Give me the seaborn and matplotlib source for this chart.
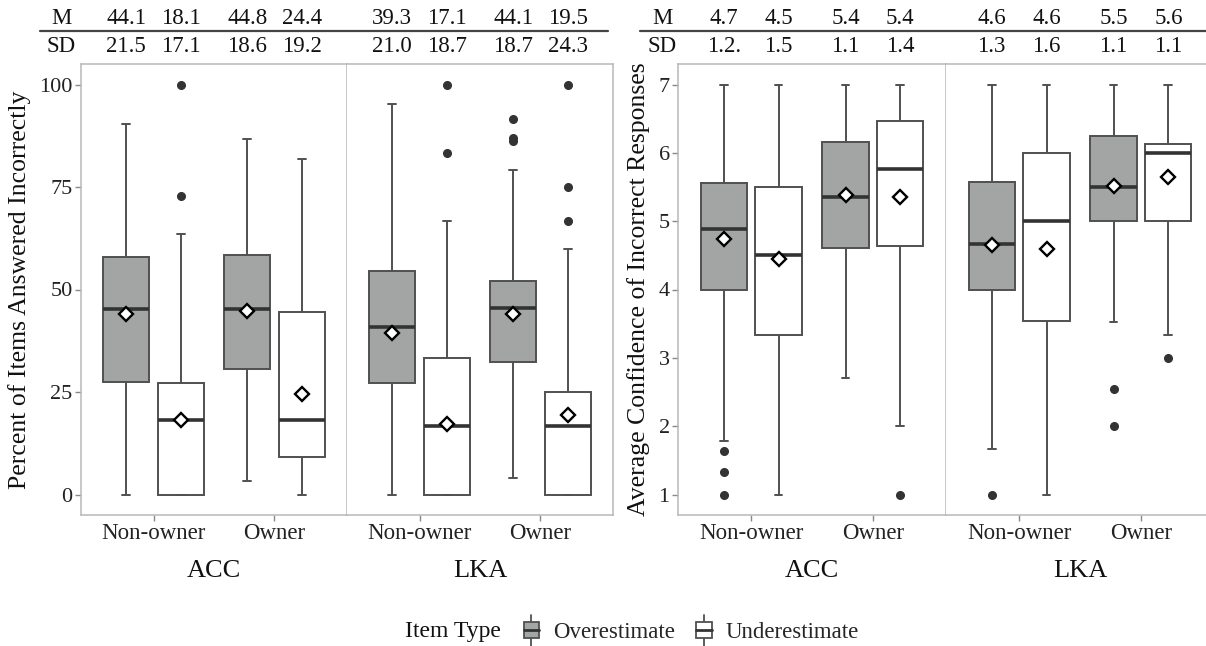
import numpy as np
import pandas as pd
import matplotlib
matplotlib.use("Agg")
import matplotlib.pyplot as plt
import matplotlib.transforms as mtrans
from matplotlib.legend_handler import HandlerBase
from matplotlib.patches import Rectangle, Patch
from matplotlib.lines import Line2D
import seaborn as sns

# ---------------- data ----------------
facets = ["ACC", "LKA"]
owners = ["Non-owner", "Owner"]
item_types = ["Overestimate", "Underestimate"]
# order of the four boxes in a facet:
# (Non-owner, Over), (Non-owner, Under), (Owner, Over), (Owner, Under)

# Percent of items answered incorrectly
pct_whislo = {"ACC": [0, 0, 3.4, 0], "LKA": [0, 0, 4.1, 0]}
pct_q1 = {"ACC": [27.4, 0, 30.5, 9.1], "LKA": [27.2, 0, 32.2, 0]}
pct_med = {"ACC": [45.2, 18.2, 45.2, 18.2], "LKA": [40.9, 16.7, 45.6, 16.7]}
pct_q3 = {"ACC": [58.0, 27.3, 58.5, 44.4], "LKA": [54.6, 33.2, 52.1, 25.0]}
pct_whishi = {"ACC": [90.3, 63.6, 86.6, 81.8], "LKA": [95.2, 66.7, 79.2, 60.0]}
pct_fliers = {"ACC": [[], [72.7, 100], [], []],
              "LKA": [[], [83.3, 100], [86.2, 87.0, 91.6], [66.7, 75.0, 100]]}
pct_mean = {"ACC": [44.1, 18.1, 44.8, 24.4], "LKA": [39.3, 17.1, 44.1, 19.5]}
pct_M_labels = {"ACC": ["44.1", "18.1", "44.8", "24.4"], "LKA": ["39.3", "17.1", "44.1", "19.5"]}
pct_SD_labels = {"ACC": ["21.5", "17.1", "18.6", "19.2"], "LKA": ["21.0", "18.7", "18.7", "24.3"]}

# Average confidence of incorrect responses
conf_whislo = {"ACC": [1.78, 1.0, 2.70, 2.0], "LKA": [1.67, 1.0, 3.52, 3.33]}
conf_q1 = {"ACC": [4.0, 3.33, 4.61, 4.63], "LKA": [4.0, 3.54, 5.0, 5.0]}
conf_med = {"ACC": [4.89, 4.50, 5.36, 5.76], "LKA": [4.67, 5.0, 5.50, 6.0]}
conf_q3 = {"ACC": [5.56, 5.50, 6.16, 6.46], "LKA": [5.58, 6.0, 6.24, 6.13]}
conf_whishi = {"ACC": [7, 7, 7, 7], "LKA": [7, 7, 7, 7]}
conf_fliers = {"ACC": [[1.0, 1.33, 1.63], [], [], [1.0]],
               "LKA": [[1.0], [], [2.0, 2.54], [3.0]]}
conf_mean = {"ACC": [4.74, 4.45, 5.38, 5.36], "LKA": [4.65, 4.59, 5.52, 5.64]}
conf_M_labels = {"ACC": ["4.7", "4.5", "5.4", "5.4"], "LKA": ["4.6", "4.6", "5.5", "5.6"]}
conf_SD_labels = {"ACC": ["1.2.", "1.5", "1.1", "1.4"], "LKA": ["1.3", "1.6", "1.1", "1.1"]}

# ---------------- style ----------------
sns.set_theme(style="white")
plt.rcParams["font.family"] = ["Liberation Serif", "DejaVu Serif"]

GRAY_FILL = "#A2A6A5"
LINE = "#505050"
BORDER = "#B8B8B8"
palette = {"Overestimate": GRAY_FILL, "Underestimate": "white"}

box_keys = [(o, t) for o in owners for t in item_types]


def build_frames(whislo, q1, med, q3, whishi, fliers, means, facet, m=50):
    rows, mrows = [], []
    for i, (o, t) in enumerate(box_keys):
        vals = ([whislo[facet][i]] + [q1[facet][i]] * m + [med[facet][i]] * m
                + [q3[facet][i]] * m + [whishi[facet][i]] + list(fliers[facet][i]))
        rows += [{"owner": o, "item": t, "value": v} for v in vals]
        mrows.append({"owner": o, "item": t, "mean": means[facet][i]})
    return pd.DataFrame(rows), pd.DataFrame(mrows)


def draw_facet(ax, df, mdf, ylim, yticks, ylabel, facet):
    sns.boxplot(data=df, x="owner", y="value", hue="item", order=owners,
                hue_order=item_types, palette=palette, width=0.9, gap=0.16,
                linecolor=LINE, linewidth=1.4, fliersize=5.5, whis=1.5,
                flierprops=dict(marker="o", markerfacecolor="#333333",
                                markeredgecolor="#333333"),
                medianprops=dict(color="#333333", linewidth=2.6),
                capwidths=0.065, legend=False, ax=ax)
    n_before = len(ax.lines)
    sns.pointplot(data=mdf, x="owner", y="mean", hue="item", order=owners,
                  hue_order=item_types, dodge=0.45, markers="D", linestyle="none",
                  palette=["white", "white"], errorbar=None, markersize=7.5,
                  legend=False, ax=ax)
    for ln in ax.lines[n_before:]:
        ln.set_markeredgecolor("black")
        ln.set_markerfacecolor("white")
        ln.set_markeredgewidth(1.7)
        ln.set_zorder(5)
    ax.set_xlim(-0.6, 1.6)
    ax.set_ylim(*ylim)
    ax.set_yticks(yticks)
    for s in ax.spines.values():
        s.set_visible(True)
        s.set_color(BORDER)
        s.set_linewidth(1.1)
    ax.tick_params(axis="x", length=4, width=1, color="#888888", labelsize=16.5,
                   labelcolor="#222222", pad=2, bottom=True)
    if ylabel is not None:
        ax.tick_params(axis="y", length=4, width=1, color="#888888", labelsize=16,
                       labelcolor="#222222", pad=2, left=True)
        ax.set_ylabel(ylabel, fontsize=18.5, color="#111111", labelpad=6)
    else:
        ax.tick_params(axis="y", left=False, labelleft=False)
        ax.set_ylabel("")
    ax.set_xlabel(facet, fontsize=19, color="#111111", labelpad=11)


W, H = 1206, 646
fig = plt.figure(figsize=(W / 100, H / 100), dpi=100)


def fx(px):
    return px / W


def fy(py):
    return 1 - py / H


panel_top, panel_bot = 64, 515
axh = (panel_bot - panel_top) / H
axes_pos = {
    ("pct", "ACC"): (81, 266), ("pct", "LKA"): (347, 266),
    ("conf", "ACC"): (678, 268), ("conf", "LKA"): (946, 268),
}

panels = {
    "pct": dict(stats=(pct_whislo, pct_q1, pct_med, pct_q3, pct_whishi, pct_fliers, pct_mean),
                ylim=(-5, 105), yticks=[0, 25, 50, 75, 100],
                ylabel="Percent of Items Answered Incorrectly",
                M=pct_M_labels, SD=pct_SD_labels, line=(40, 608), mx=61),
    "conf": dict(stats=(conf_whislo, conf_q1, conf_med, conf_q3, conf_whishi, conf_fliers, conf_mean),
                 ylim=(0.7, 7.3), yticks=[1, 2, 3, 4, 5, 6, 7],
                 ylabel="Average Confidence of Incorrect Responses",
                 M=conf_M_labels, SD=conf_SD_labels, line=(640, 1206), mx=662),
}

offsets = [-0.225, 0.225]
for pname, p in panels.items():
    for fi, facet in enumerate(facets):
        left, width = axes_pos[(pname, facet)]
        ax = fig.add_axes([fx(left), fy(panel_bot), width / W, axh])
        df, mdf = build_frames(*p["stats"], facet)
        draw_facet(ax, df, mdf, p["ylim"], p["yticks"],
                   p["ylabel"] if fi == 0 else None, facet)
        if fi == 1:
            ax.spines["left"].set_visible(False)
        # summary table above the facet
        trans = mtrans.blended_transform_factory(ax.transData, fig.transFigure)
        for i, (o, t) in enumerate(box_keys):
            xpos = owners.index(o) + offsets[item_types.index(t)]
            ax.text(xpos, fy(18), p["M"][facet][i], transform=trans, ha="center",
                    va="center", fontsize=16.5, color="#111111", clip_on=False)
            ax.text(xpos, fy(47), p["SD"][facet][i], transform=trans, ha="center",
                    va="center", fontsize=16.5, color="#111111", clip_on=False)
    fig.text(fx(p["mx"]), fy(18), "M", ha="center", va="center", fontsize=16.5, color="#111111")
    fig.text(fx(p["mx"]), fy(47), "SD", ha="center", va="center", fontsize=16.5, color="#111111")
    x0, x1 = p["line"]
    fig.add_artist(Line2D([fx(x0), fx(x1)], [fy(31), fy(31)], color="#444444",
                          linewidth=1.6, transform=fig.transFigure))


# ---------------- legend ----------------
class HandlerBox(HandlerBase):
    def create_artists(self, legend, orig_handle, xdescent, ydescent, width,
                       height, fontsize, trans):
        fc = orig_handle.get_facecolor()
        cx = -xdescent + width / 2
        cy = -ydescent + height / 2
        bw, bh = width * 0.75, height * 0.85
        vline = Line2D([cx, cx], [cy - height * 0.8, cy + height * 0.8], color=LINE,
                       lw=1.3, transform=trans)
        rect = Rectangle((cx - bw / 2, cy - bh / 2), bw, bh, facecolor=fc,
                         edgecolor=LINE, lw=1.3, transform=trans)
        hline = Line2D([cx - bw / 2, cx + bw / 2], [cy, cy], color="#333333",
                       lw=2.0, transform=trans)
        return [vline, rect, hline]


handles = [Patch(facecolor=palette[t], edgecolor=LINE) for t in item_types]
fig.text(fx(453), fy(632), "Item Type", ha="center", va="center", fontsize=17,
         color="#111111")
fig.legend(handles, item_types, handler_map={Patch: HandlerBox()}, loc="center",
           bbox_to_anchor=(fx(690), fy(632)), ncol=2, frameon=False, fontsize=16.5,
           handlelength=0.9, handleheight=0.9, columnspacing=0.8, handletextpad=0.5)

fig.savefig("out.png", dpi=100)
